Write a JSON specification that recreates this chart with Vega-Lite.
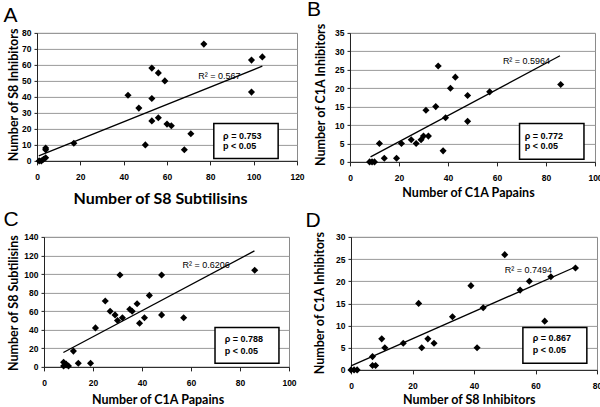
{
  "$schema": "https://vega.github.io/schema/vega-lite/v6.json",
  "background": "white",
  "padding": {"left": 3, "top": -2.1, "right": 0, "bottom": 0},
  "spacing": 0,
  "config": {
    "view": {"stroke": "#8a8a8a", "strokeWidth": 1},
    "axis": {
      "labelFont": "Liberation Sans", "labelFontWeight": "bold", "labelFontSize": 8.5, "labelColor": "#000",
      "labelFlush": false, "labelOverlap": false,
      "titleFont": "Lato", "titleFontWeight": "bold", "titleFontSize": 12.5, "titleColor": "#000",
      "domainColor": "#222", "tickColor": "#222", "tickSize": 4,
      "gridColor": "#9a9a9a", "gridWidth": 1
    },
    "axisX": {"grid": false, "labelPadding": 8, "titleBaseline": "alphabetic", "titleAlign": "center"},
    "axisY": {"grid": true, "labelPadding": 3, "tickSize": 3, "titleBaseline": "alphabetic", "titleAlign": "center", "titleAngle": -90},
    "title": {"anchor": "start", "frame": "group", "font": "Liberation Sans", "fontSize": 21, "fontWeight": "normal", "color": "#000", "baseline": "alphabetic", "offset": 0}
  },
  "vconcat": [
    {
      "bounds": "flush",
      "spacing": 0,
      "hconcat": [
        {"width": 1, "height": 10, "view": {"stroke": null}, "data": {"values": []}, "mark": {"type": "point", "opacity": 0}},
        {
          "width": 260, "height": 128,
          "title": {"text": "A", "dx": -33.5, "dy": 2.1},
          "encoding": {
            "x": {"field": "x", "type": "quantitative", "scale": {"domain": [0, 120], "nice": false, "zero": false},
                  "axis": {"values": [0, 20, 40, 60, 80, 100, 120], "title": "Number of S8 Subtilisins", "titleFontSize": 16, "titleY": 43, "titleX": 123}},
            "y": {"field": "y", "type": "quantitative", "scale": {"domain": [0, 80], "nice": false},
                  "axis": {"values": [0, 10, 20, 30, 40, 50, 60, 70, 80], "title": "Number of S8 Inhibitors", "titleX": -19.5, "titleY": 61.5}}
          },
          "layer": [
            {"data": {"values": [
              {"x": 1, "y": 0}, {"x": 2, "y": 0}, {"x": 3, "y": 1}, {"x": 4, "y": 8}, {"x": 4, "y": 7}, {"x": 4, "y": 2},
              {"x": 17, "y": 11}, {"x": 42, "y": 41}, {"x": 47, "y": 33}, {"x": 50, "y": 10}, {"x": 53, "y": 58}, {"x": 53, "y": 39},
              {"x": 53, "y": 25}, {"x": 56, "y": 55}, {"x": 56, "y": 27}, {"x": 59, "y": 50}, {"x": 60, "y": 23}, {"x": 62, "y": 22},
              {"x": 68, "y": 7}, {"x": 71, "y": 17}, {"x": 77, "y": 73}, {"x": 99, "y": 63}, {"x": 99, "y": 43}, {"x": 104, "y": 65}
            ]}, "mark": {"type": "point", "shape": "diamond", "filled": true, "size": 50, "color": "#000", "opacity": 1}},
            {"data": {"values": [{"x": 0.8, "y": 3.1}, {"x": 104, "y": 59.2}]}, "mark": {"type": "line", "color": "#000", "strokeWidth": 1.3}},
            {"data": {"values": [{"x": 74.4, "y": 50.9, "t": "R² = 0.567"}]}, "mark": {"type": "text", "align": "left", "baseline": "alphabetic", "fontSize": 9, "font": "Liberation Sans Narrow, Liberation Sans", "color": "#000"}, "encoding": {"text": {"field": "t"}}},
            {"data": {"values": [{"x": 81.6, "x2": 111.3, "y": 23.3, "y2": 1.5}]}, "mark": {"type": "rect", "fill": "#fff", "stroke": "#000", "strokeWidth": 1.5}, "encoding": {"x2": {"field": "x2"}, "y2": {"field": "y2"}}},
            {"data": {"values": [{"x": 85.9, "y": 13.5, "t": "ρ = 0.753"}, {"x": 85.9, "y": 7.7, "t": "p < 0.05"}]}, "mark": {"type": "text", "align": "left", "baseline": "alphabetic", "fontSize": 9, "fontWeight": "bold", "font": "Liberation Sans", "color": "#000"}, "encoding": {"text": {"field": "t"}}}
          ]
        },
        {"width": 52.5, "height": 10, "view": {"stroke": null}, "data": {"values": []}, "mark": {"type": "point", "opacity": 0}},
        {
          "width": 245, "height": 129,
          "title": {"text": "B", "dx": -43, "dy": 1},
          "encoding": {
            "x": {"field": "x", "type": "quantitative", "scale": {"domain": [0, 100], "nice": false, "zero": false},
                  "axis": {"values": [0, 20, 40, 60, 80, 100], "title": "Number of C1A Papains", "titleY": 35, "titleX": 118}},
            "y": {"field": "y", "type": "quantitative", "scale": {"domain": [0, 35], "nice": false},
                  "axis": {"values": [0, 5, 10, 15, 20, 25, 30, 35], "title": "Number of C1A Inhibitors", "titleX": -25, "titleY": 61.5}}
          },
          "layer": [
            {"data": {"values": [
              {"x": 8, "y": 0}, {"x": 9, "y": 0}, {"x": 10, "y": 0}, {"x": 12, "y": 5}, {"x": 14, "y": 1}, {"x": 19, "y": 1},
              {"x": 21, "y": 5}, {"x": 25, "y": 6}, {"x": 27, "y": 5}, {"x": 29, "y": 6}, {"x": 30, "y": 7}, {"x": 31, "y": 14},
              {"x": 32, "y": 7}, {"x": 35, "y": 15}, {"x": 36, "y": 26}, {"x": 38, "y": 3}, {"x": 39, "y": 12}, {"x": 41, "y": 20},
              {"x": 43, "y": 23}, {"x": 48, "y": 18}, {"x": 48, "y": 11}, {"x": 57, "y": 19}, {"x": 86, "y": 21}
            ]}, "mark": {"type": "point", "shape": "diamond", "filled": true, "size": 50, "color": "#000", "opacity": 1}},
            {"data": {"values": [{"x": 8.4, "y": 1.35}, {"x": 85.7, "y": 28.8}]}, "mark": {"type": "line", "color": "#000", "strokeWidth": 1.3}},
            {"data": {"values": [{"x": 62.4, "y": 26.5, "t": "R² = 0.5964"}]}, "mark": {"type": "text", "align": "left", "baseline": "alphabetic", "fontSize": 9, "font": "Liberation Sans Narrow, Liberation Sans", "color": "#000"}, "encoding": {"text": {"field": "t"}}},
            {"data": {"values": [{"x": 69.2, "x2": 95.5, "y": 10.4, "y2": 0.73}]}, "mark": {"type": "rect", "fill": "#fff", "stroke": "#000", "strokeWidth": 1.5}, "encoding": {"x2": {"field": "x2"}, "y2": {"field": "y2"}}},
            {"data": {"values": [{"x": 71.3, "y": 6.2, "t": "ρ = 0.772"}, {"x": 71.3, "y": 3.4, "t": "p < 0.05"}]}, "mark": {"type": "text", "align": "left", "baseline": "alphabetic", "fontSize": 9, "fontWeight": "bold", "font": "Liberation Sans", "color": "#000"}, "encoding": {"text": {"field": "t"}}}
          ]
        }
      ]
    },
    {
      "bounds": "flush",
      "spacing": 0,
      "hconcat": [
        {"width": 8, "height": 10, "view": {"stroke": null}, "data": {"values": []}, "mark": {"type": "point", "opacity": 0}},
        {
          "width": 245, "height": 130,
          "title": {"text": "C", "dx": -40.5, "dy": 0.7},
          "encoding": {
            "x": {"field": "x", "type": "quantitative", "scale": {"domain": [0, 100], "nice": false, "zero": false},
                  "axis": {"values": [0, 20, 40, 60, 80, 100], "title": "Number of C1A Papains", "titleY": 36.3, "titleX": 113.5}},
            "y": {"field": "y", "type": "quantitative", "scale": {"domain": [0, 140], "nice": false},
                  "axis": {"values": [0, 20, 40, 60, 80, 100, 120, 140], "title": "Number of S8 Subtilisins", "titleX": -26.5, "titleY": 65.8}}
          },
          "layer": [
            {"data": {"values": [
              {"x": 8, "y": 5}, {"x": 8, "y": 1}, {"x": 9, "y": 3}, {"x": 9, "y": 2}, {"x": 10, "y": 1}, {"x": 12, "y": 17},
              {"x": 14, "y": 4}, {"x": 19, "y": 4}, {"x": 21, "y": 42}, {"x": 25, "y": 71}, {"x": 27, "y": 60}, {"x": 29, "y": 56},
              {"x": 30, "y": 50}, {"x": 31, "y": 99}, {"x": 32, "y": 53}, {"x": 35, "y": 62}, {"x": 36, "y": 60}, {"x": 38, "y": 68},
              {"x": 39, "y": 47}, {"x": 41, "y": 53}, {"x": 43, "y": 77}, {"x": 48, "y": 99}, {"x": 48, "y": 56}, {"x": 57, "y": 53},
              {"x": 86, "y": 104}
            ]}, "mark": {"type": "point", "shape": "diamond", "filled": true, "size": 50, "color": "#000", "opacity": 1}},
            {"data": {"values": [{"x": 7.9, "y": 15.5}, {"x": 85.9, "y": 124.9}]}, "mark": {"type": "line", "color": "#000", "strokeWidth": 1.3}},
            {"data": {"values": [{"x": 56.5, "y": 106, "t": "R² = 0.6206"}]}, "mark": {"type": "text", "align": "left", "baseline": "alphabetic", "fontSize": 9, "font": "Liberation Sans Narrow, Liberation Sans", "color": "#000"}, "encoding": {"text": {"field": "t"}}},
            {"data": {"values": [{"x": 69.8, "x2": 95.9, "y": 42.4, "y2": 4}]}, "mark": {"type": "rect", "fill": "#fff", "stroke": "#000", "strokeWidth": 1.5}, "encoding": {"x2": {"field": "x2"}, "y2": {"field": "y2"}}},
            {"data": {"values": [{"x": 73.8, "y": 26.6, "t": "ρ = 0.788"}, {"x": 73.8, "y": 14.2, "t": "p < 0.05"}]}, "mark": {"type": "text", "align": "left", "baseline": "alphabetic", "fontSize": 9, "fontWeight": "bold", "font": "Liberation Sans", "color": "#000"}, "encoding": {"text": {"field": "t"}}}
          ]
        },
        {"width": 62, "height": 10, "view": {"stroke": null}, "data": {"values": []}, "mark": {"type": "point", "opacity": 0}},
        {
          "width": 246, "height": 133,
          "title": {"text": "D", "dx": -45.5, "dy": 4.2},
          "encoding": {
            "x": {"field": "x", "type": "quantitative", "scale": {"domain": [0, 80], "nice": false, "zero": false},
                  "axis": {"values": [0, 20, 40, 60, 80], "title": "Number of S8 Inhibitors", "titleY": 33.5, "titleX": 117.8}},
            "y": {"field": "y", "type": "quantitative", "scale": {"domain": [0, 30], "nice": false},
                  "axis": {"values": [0, 5, 10, 15, 20, 25, 30], "title": "Number of C1A Inhibitors", "titleX": -27, "titleY": 65.8}}
          },
          "layer": [
            {"data": {"values": [
              {"x": 0, "y": 0}, {"x": 1, "y": 0}, {"x": 2, "y": 0}, {"x": 7, "y": 3}, {"x": 7, "y": 1}, {"x": 8, "y": 1},
              {"x": 10, "y": 7}, {"x": 11, "y": 5}, {"x": 17, "y": 6}, {"x": 22, "y": 15}, {"x": 23, "y": 5}, {"x": 25, "y": 7},
              {"x": 27, "y": 6}, {"x": 33, "y": 12}, {"x": 39, "y": 19}, {"x": 41, "y": 5}, {"x": 43, "y": 14}, {"x": 50, "y": 26},
              {"x": 55, "y": 18}, {"x": 58, "y": 20}, {"x": 63, "y": 11}, {"x": 65, "y": 21}, {"x": 73, "y": 23}
            ]}, "mark": {"type": "point", "shape": "diamond", "filled": true, "size": 50, "color": "#000", "opacity": 1}},
            {"data": {"values": [{"x": 0, "y": 0.9}, {"x": 72.6, "y": 23.1}]}, "mark": {"type": "line", "color": "#000", "strokeWidth": 1.3}},
            {"data": {"values": [{"x": 50, "y": 21.9, "t": "R² = 0.7494"}]}, "mark": {"type": "text", "align": "left", "baseline": "alphabetic", "fontSize": 9, "font": "Liberation Sans Narrow, Liberation Sans", "color": "#000"}, "encoding": {"text": {"field": "t"}}},
            {"data": {"values": [{"x": 55.9, "x2": 76.7, "y": 9.57, "y2": 1.52}]}, "mark": {"type": "rect", "fill": "#fff", "stroke": "#000", "strokeWidth": 1.5}, "encoding": {"x2": {"field": "x2"}, "y2": {"field": "y2"}}},
            {"data": {"values": [{"x": 59.1, "y": 6.6, "t": "ρ = 0.867"}, {"x": 59.1, "y": 3.7, "t": "p < 0.05"}]}, "mark": {"type": "text", "align": "left", "baseline": "alphabetic", "fontSize": 9, "fontWeight": "bold", "font": "Liberation Sans", "color": "#000"}, "encoding": {"text": {"field": "t"}}}
          ]
        }
      ]
    }
  ]
}
